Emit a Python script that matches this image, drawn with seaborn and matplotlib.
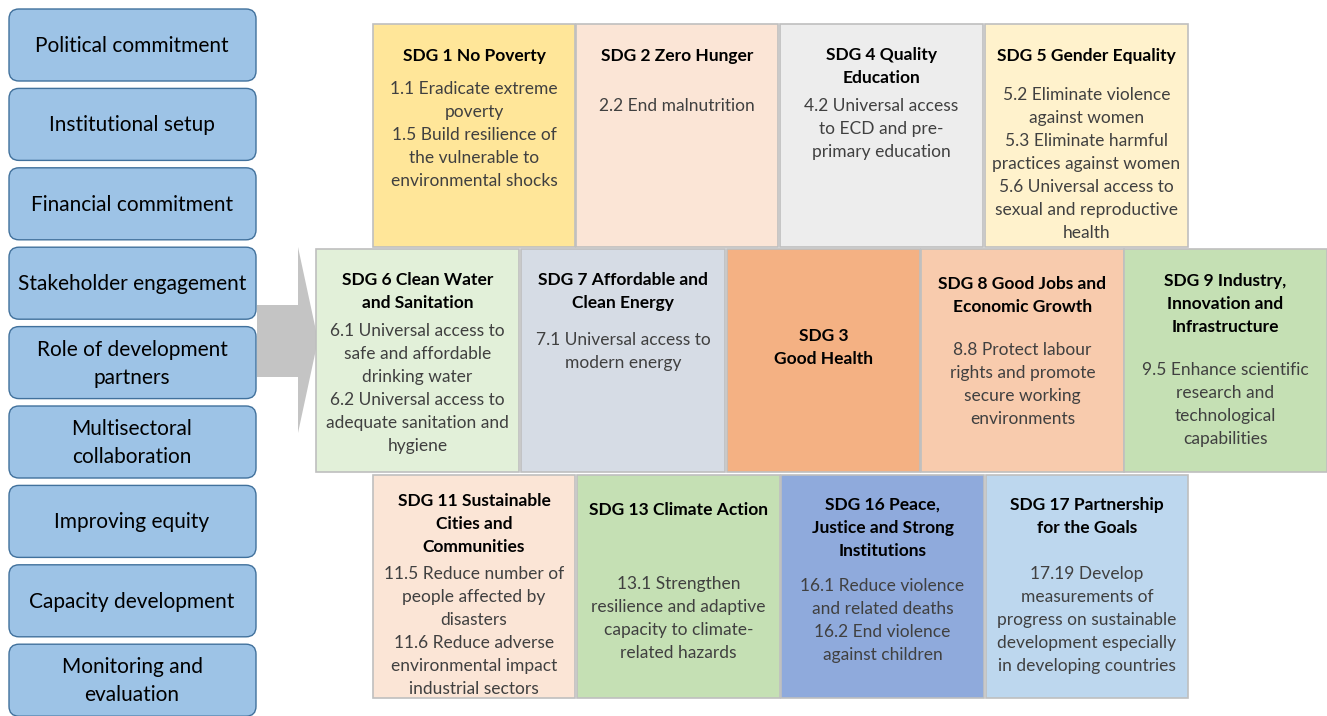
import matplotlib.pyplot as plt
import seaborn as sns
from matplotlib.patches import FancyBboxPatch, Rectangle, Polygon

sns.set_theme(style="white")
plt.rcParams['font.family'] = ['Lato', 'DejaVu Sans']

# --- данные ---
enablers = ["Political commitment", "Institutional setup", "Financial commitment",
            "Stakeholder engagement", "Role of development\npartners",
            "Multisectoral\ncollaboration", "Improving equity",
            "Capacity development", "Monitoring and\nevaluation"]

sdg_titles = [
    "SDG 1 No Poverty", "SDG 2 Zero Hunger", "SDG 4 Quality\nEducation", "SDG 5 Gender Equality",
    "SDG 6 Clean Water\nand Sanitation", "SDG 7 Affordable and\nClean Energy", "SDG 3\nGood Health",
    "SDG 8 Good Jobs and\nEconomic Growth", "SDG 9 Industry,\nInnovation and\nInfrastructure",
    "SDG 11 Sustainable\nCities and\nCommunities", "SDG 13 Climate Action",
    "SDG 16 Peace,\nJustice and Strong\nInstitutions", "SDG 17 Partnership\nfor the Goals",
]
sdg_targets = [
    "1.1 Eradicate extreme\npoverty\n1.5 Build resilience of\nthe vulnerable to\nenvironmental shocks",
    "2.2 End malnutrition",
    "4.2 Universal access\nto ECD and pre-\nprimary education",
    "5.2 Eliminate violence\nagainst women\n5.3 Eliminate harmful\npractices against women\n5.6 Universal access to\nsexual and reproductive\nhealth",
    "6.1 Universal access to\nsafe and affordable\ndrinking water\n6.2 Universal access to\nadequate sanitation and\nhygiene",
    "7.1 Universal access to\nmodern energy",
    "",
    "8.8 Protect labour\nrights and promote\nsecure working\nenvironments",
    "9.5 Enhance scientific\nresearch and\ntechnological\ncapabilities",
    "11.5 Reduce number of\npeople affected by\ndisasters\n11.6 Reduce adverse\nenvironmental impact\nindustrial sectors",
    "13.1 Strengthen\nresilience and adaptive\ncapacity to climate-\nrelated hazards",
    "16.1 Reduce violence\nand related deaths\n16.2 End violence\nagainst children",
    "17.19 Develop\nmeasurements of\nprogress on sustainable\ndevelopment especially\nin developing countries",
]
sdg_colors = ["#FFE699", "#FBE5D6", "#EDEDED", "#FFF2CC",
              "#E2F0D9", "#D6DCE5", "#F4B183", "#F8CBAD", "#C5E0B4",
              "#FBE5D6", "#C5E0B4", "#8FAADC", "#BDD7EE"]

# --- раскладка (пиксели) ---
W, H = 1327, 716
row_y = [(24, 247), (249, 472), (475, 698)]
col_x = [
    [(373, 575), (576, 778), (780, 983), (985, 1188)],
    [(316, 519), (521, 725), (727, 920), (921, 1124), (1124, 1327)],
    [(373, 575), (577, 780), (781, 984), (986, 1188)],
]
title_y = [54, 54, 53, 54, 278, 278, 334, 282, 279, 499, 508, 503, 503]
body_y = [87, 104, 104, 93, 329, 338, 0, 348, 368, 572, 582, 584, 572]
LINE = 23
DY = 2  # поправка базовой линии шрифта

fig = plt.figure(figsize=(W / 100, H / 100), dpi=100)
ax = fig.add_axes([0, 0, 1, 1])
ax.set_xlim(0, W)
ax.set_ylim(H, 0)
ax.axis('off')

# стрелка
ax.add_patch(Polygon([(257, 305), (298, 305), (298, 247), (318, 340),
                      (298, 433), (298, 377), (257, 377)],
                     closed=True, fc="#C4C4C4", ec="none", zorder=1))

# левые блоки
for i, label in enumerate(enablers):
    y0 = 9 + i * 79.4
    ax.add_patch(FancyBboxPatch((9, y0), 247, 72, boxstyle="round,pad=0,rounding_size=10",
                                fc="#9DC3E6", ec="#41719C", lw=1.0, zorder=2))
    ax.text(132, y0 + 37, label, ha='center', va='center', fontsize=15,
            color='black', linespacing=1.5, zorder=3)

# блоки ЦУР
k = 0
for r, cols in enumerate(col_x):
    y1, y2 = row_y[r]
    for x1, x2 in cols:
        ax.add_patch(Rectangle((x1, y1), x2 - x1, y2 - y1, fc=sdg_colors[k],
                               ec="#BFBFBF", lw=1.2, zorder=2))
        cx = (x1 + x2) / 2
        for j, line in enumerate(sdg_titles[k].split("\n")):
            ax.text(cx, title_y[k] + j * LINE + DY, line, ha='center', va='center',
                    fontsize=12.5, fontweight='bold', color='black', zorder=3)
        if sdg_targets[k]:
            for j, line in enumerate(sdg_targets[k].split("\n")):
                ax.text(cx, body_y[k] + j * LINE + DY, line, ha='center', va='center',
                        fontsize=12.5, color='#404040', zorder=3)
        k += 1

fig.savefig("out.png", dpi=100)
